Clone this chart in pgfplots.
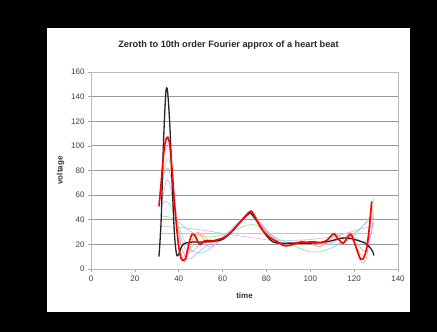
\documentclass[border=0pt]{standalone}
\usepackage{pgfplots}
\pgfplotsset{compat=1.18}
\usepackage{fontspec}
\setmainfont{Liberation Sans}
\definecolor{cZero}{RGB}{235,175,200}
\definecolor{cOne}{RGB}{200,185,240}
\definecolor{cTwo}{RGB}{140,225,140}
\definecolor{cThree}{RGB}{140,215,240}
\definecolor{cFour}{RGB}{205,165,240}
\definecolor{cFive}{RGB}{160,175,250}
\definecolor{cSix}{RGB}{250,195,110}
\definecolor{cEight}{RGB}{250,150,190}
\begin{document}
\begin{tikzpicture}[x=1pt,y=1pt]
\fill[black] (-91,-63) rectangle (346,269);
\fill[white] (-44,-43) rectangle (319,241);
\begin{axis}[at={(0,0)},anchor=south west,
  scale only axis, width=307pt, height=197pt,
  xmin=0, xmax=140, ymin=0, ymax=160,
  xtick={0,20,...,140}, ytick={0,20,...,160},
  ymajorgrids, grid style={gray!80, line width=0.8pt},
  axis line style={gray!55, line width=0.6pt},
  tick style={gray!70, line width=0.6pt},
  tick align=outside, major tick length=3pt,
  xtick pos=bottom, ytick pos=left,
  /pgf/number format/assume math mode=true,
  ticklabel style={font=\fontsize{8}{9}\selectfont, text=black!75},
  xlabel={\textbf{time}}, ylabel={\textbf{voltage}},
  xlabel style={yshift=-5pt},
  label style={font=\fontsize{8}{9}\selectfont, text=black!80},
  every axis plot/.append style={smooth},
]
\addplot[cZero, line width=0.6pt] coordinates {(31,29) (129,29)};
\addplot[cOne, line width=0.6pt] coordinates {(31,35) (45,33) (60,29) (75,25) (85,23) (100,24) (112,27) (122,32) (129,35)};
\addplot[cTwo, line width=0.6pt] coordinates {(32,43) (36,42) (40,38) (45,31) (50,27) (55,26) (60,28) (65,31) (70,35) (74,36) (78,33) (82,28) (86,24) (90,21) (95,17) (100,14) (104,14) (108,16) (112,19) (116,23) (120,29) (124,35) (129,42)};
\addplot[cThree, line width=0.6pt] coordinates {(32,52) (34,55) (36,52) (38,44) (40,34) (43,22) (46,15) (50,13) (54,16) (58,22) (62,29) (66,36) (70,42) (73,44) (76,40) (80,32) (84,25) (88,21) (92,20) (96,21) (100,22) (104,21) (108,20) (112,20) (116,22) (120,27) (124,35) (129,47)};
\addplot[cFour, line width=0.6pt] coordinates {(32,50) (34,70) (35,72) (36,68) (38,50) (40,32) (42,20) (44,14) (46,14) (48,17) (50,20) (54,22) (58,24) (62,28) (66,35) (70,42) (73,45) (76,40) (80,31) (84,24) (88,20) (92,20) (96,22) (100,22) (104,20) (108,20) (112,23) (116,26) (120,26) (124,22) (127,25) (129,38)};
\addplot[cFive, line width=0.6pt] coordinates {(31,50) (33,75) (35,82) (37,70) (39,42) (41,20) (43,10) (45,8) (48,12) (52,18) (56,22) (60,26) (64,31) (68,38) (72,45) (74,44) (78,35) (82,26) (86,21) (90,20) (94,21) (98,22) (102,22) (106,21) (110,20) (114,21) (118,24) (121,21) (124,15) (126,15) (128,32) (129,45)};
\addplot[cSix, line width=0.6pt] coordinates {(31,52) (33,78) (35,90) (36,86) (38,58) (40,30) (42,14) (44,12) (46,18) (48,26) (50,29) (52,26) (55,21) (58,22) (62,27) (66,35) (70,43) (73,46) (76,40) (80,30) (84,22) (88,19) (92,21) (96,23) (100,22) (104,20) (108,21) (112,26) (116,29) (118,28) (120,22) (123,12) (125,12) (127,30) (129,58)};
\addplot[cEight, line width=0.6pt] coordinates {(31,52) (33,90) (35,100) (36,96) (38,60) (40,22) (42,8) (43,6) (45,16) (47,27) (49,30) (51,25) (53,19) (55,18) (58,22) (62,27) (66,35) (70,43) (73,47) (76,40) (80,29) (84,22) (88,19) (92,20) (96,22) (100,21) (104,18) (108,22) (112,28) (115,24) (118,30) (120,24) (122,10) (124,5) (126,12) (128,48)};
\addplot[black!85, line width=1.3pt] coordinates {(31,10) (32,40) (33,100) (34,140) (34.5,147) (35,143) (36,115) (37,70) (38,30) (39,12) (40,12) (41,17) (42,20) (44,21.5) (48,22) (52,22) (56,22.5) (60,24) (64,30) (68,38) (72,45) (73,45) (76,38) (80,27) (83,22) (86,21) (90,21) (95,21) (100,21) (105,21.5) (110,23) (114,25) (118,25) (122,23) (125,21) (127,18) (128.5,14) (129,11)};
\addplot[red, line width=1.6pt] coordinates {(31,51) (32,70) (33,92) (34,104) (35,107) (36,100) (37,80) (38,55) (39,35) (40,18) (41,9) (42,7) (43,8) (44,15) (45,23) (46,28) (47,28) (48,25) (49,21) (50,20) (51,22) (52,23) (54,23) (56,23) (58,24) (60,25) (62,27) (64,30) (66,34) (68,38) (70,42) (72,46) (73,47) (74,45) (76,38) (78,32) (80,28) (82,25) (84,23) (86,21) (88,19) (90,19) (92,20) (94,21) (96,22) (98,21.5) (100,22) (102,22) (104,21.5) (106,22) (108,24) (110,28) (111,28.5) (112,26) (114,22) (115,21) (116,23) (118,28) (119,27) (120,22) (122,12) (123,8) (124,8) (125,12) (126,20) (127,35) (128,55)};
\end{axis}
\node[font=\bfseries\fontsize{9.2}{10}\selectfont, text=black!85] at (137.5,224) {Zeroth to 10th order Fourier approx of a heart beat};
\end{tikzpicture}
\end{document}
